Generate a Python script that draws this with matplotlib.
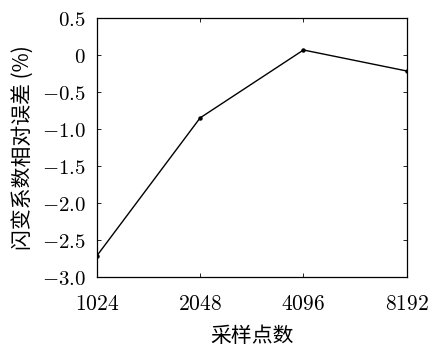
import matplotlib
matplotlib.use('Agg')
import matplotlib.pyplot as plt

# data
points = [1024, 2048, 4096, 8192]
err = [-2.716, -0.85, 0.068, -0.216]
yticks = [0.5, 0, -0.5, -1.0, -1.5, -2.0, -2.5, -3.0]
ylabels = ['0.5', '0', '-0.5', '-1.0', '-1.5', '-2.0', '-2.5', '-3.0']

plt.rcParams['mathtext.fontset'] = 'cm'
cjk = ['Noto Sans CJK SC', 'DejaVu Sans']

fig = plt.figure(figsize=(4.36, 3.47), dpi=100)
ax = fig.add_axes([0.222, 0.202, 0.711, 0.746])

x = list(range(len(points)))
ax.plot(x, err, color='black', lw=1.0, marker='o', markersize=2.2)

ax.set_xlim(0, 3)
ax.set_ylim(-3.0, 0.5)
ax.set_xticks(x)
ax.set_xticklabels(['$%d$' % p for p in points], fontsize=15.5)
ax.set_yticks(yticks)
ax.set_yticklabels(['$%s$' % s for s in ylabels], fontsize=15)
ax.tick_params(direction='in', top=True, right=True, length=3, width=0.6)
ax.tick_params(axis='x', pad=12)
ax.tick_params(axis='y', pad=8)
for s in ax.spines.values():
    s.set_linewidth(0.9)

ax.set_xlabel('采样点数', family=cjk, fontsize=15, labelpad=8)
ax.set_ylabel('闪变系数相对误差 (%)', family=cjk, fontsize=15, labelpad=5)

fig.savefig('out.png', dpi=100)
